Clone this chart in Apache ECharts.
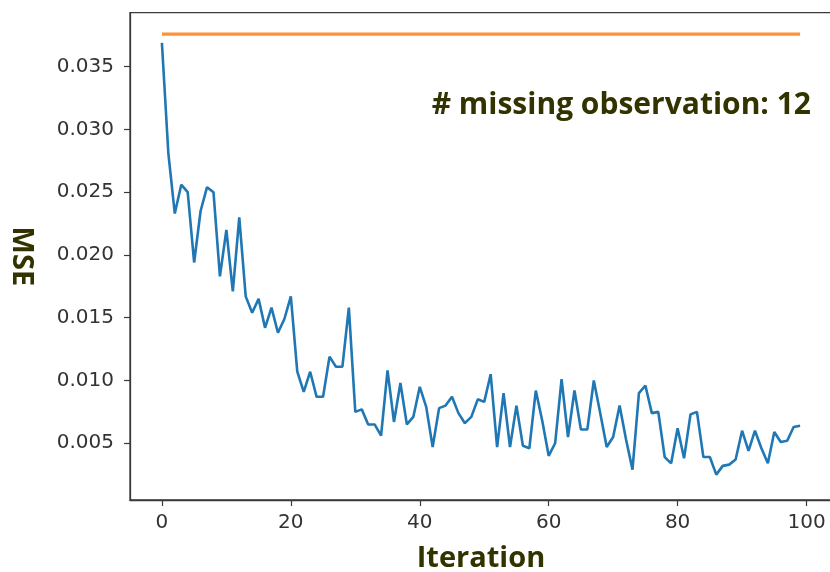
<!DOCTYPE html>
<html>
<head>
<meta charset="utf-8">
<script src="https://cdn.jsdelivr.net/npm/echarts@6/dist/echarts.min.js"></script>
<style>
html,body{margin:0;padding:0;background:#fff;}
#chart{width:830px;height:572px;}
</style>
</head>
<body>
<div id="chart"></div>
<script>
// ---- data ----
const iterations = Array.from({length: 100}, (_, i) => i);
const mse = [
  0.0369, 0.0281, 0.0233, 0.0256, 0.0250, 0.0194, 0.0235, 0.0254, 0.0250, 0.0183,
  0.0220, 0.0171, 0.0230, 0.0167, 0.0154, 0.0165, 0.0142, 0.0158, 0.0138, 0.0149,
  0.0167, 0.0107, 0.0091, 0.0107, 0.0087, 0.0087, 0.0119, 0.0111, 0.0111, 0.0158,
  0.0075, 0.0077, 0.0065, 0.0065, 0.0056, 0.0108, 0.0067, 0.0098, 0.0065, 0.0071,
  0.0095, 0.0079, 0.0047, 0.0078, 0.0080, 0.0087, 0.0074, 0.0066, 0.0071, 0.0085,
  0.0083, 0.0105, 0.0047, 0.0090, 0.0047, 0.0080, 0.0048, 0.0046, 0.0092, 0.0068,
  0.0040, 0.0050, 0.0101, 0.0055, 0.0092, 0.0061, 0.0061, 0.0100, 0.0074, 0.0047,
  0.0055, 0.0080, 0.0053, 0.0029, 0.0090, 0.0096, 0.0074, 0.0075, 0.0039, 0.0034,
  0.0062, 0.0038, 0.0073, 0.0075, 0.0039, 0.0039, 0.0025, 0.0032, 0.0033, 0.0037,
  0.0060, 0.0044, 0.0060, 0.0046, 0.0034, 0.0059, 0.0051, 0.0052, 0.0063, 0.0064
];
const referenceX = [0, 99];
const referenceY = [0.0376, 0.0376];
const xTicks = [0, 20, 40, 60, 80, 100];
const yTicks = [0.005, 0.010, 0.015, 0.020, 0.025, 0.030, 0.035];
const annotation = '# missing observation: 12';
const xName = 'Iteration';
const yName = 'MSE';

// ---- chart ----
const chart = echarts.init(document.getElementById('chart'), null, {renderer: 'canvas'});
const labelFont = {fontFamily: 'DejaVu Sans', fontSize: 20, color: '#333333'};
const nameFont = {fontFamily: 'Open Sans', fontSize: 29, fontWeight: 'bold', color: '#333300'};

chart.setOption({
  animation: false,
  backgroundColor: '#ffffff',
  grid: {
    left: 130, top: 12.7, width: 702, height: 487.3,
    outerBoundsMode: 'none', containLabel: false,
    show: true, borderColor: '#3a3a3a', borderWidth: 1.3, backgroundColor: 'transparent'
  },
  xAxis: {
    type: 'value', min: -4.95, max: 103.95,
    name: xName, nameLocation: 'middle', nameGap: 44, nameTextStyle: nameFont,
    axisLine: {show: true, onZero: false, lineStyle: {color: '#3a3a3a', width: 1.3}},
    axisTick: {show: true, length: 6, lineStyle: {color: '#3a3a3a', width: 1.2}, customValues: xTicks},
    axisLabel: Object.assign({margin: 13, customValues: xTicks, formatter: v => String(v)}, labelFont),
    splitLine: {show: false}
  },
  yAxis: {
    type: 'value', min: 0.00048, max: 0.0393,
    name: yName, nameLocation: 'middle', nameRotate: -90, nameGap: 94, nameTextStyle: nameFont,
    axisLine: {show: true, onZero: false, lineStyle: {color: '#3a3a3a', width: 1.3}},
    axisTick: {show: true, length: 6, lineStyle: {color: '#3a3a3a', width: 1.2}, customValues: yTicks},
    axisLabel: Object.assign({margin: 16, customValues: yTicks, formatter: v => v.toFixed(3)}, labelFont),
    splitLine: {show: false}
  },
  graphic: [{
    type: 'text', right: 19, top: 90,
    style: {text: annotation, fill: '#333300', font: 'bold 30px "Open Sans"'}
  }],
  series: [{
    type: 'line', name: 'reference',
    data: referenceX.map((x, i) => [x, referenceY[i]]),
    showSymbol: false, lineStyle: {color: '#ff7f0e', width: 3.2, opacity: 0.85}
  }, {
    type: 'line', name: 'MSE',
    data: iterations.map((x, i) => [x, mse[i]]),
    showSymbol: false, lineStyle: {color: '#1f77b4', width: 2.6}
  }]
});
</script>
</body>
</html>
